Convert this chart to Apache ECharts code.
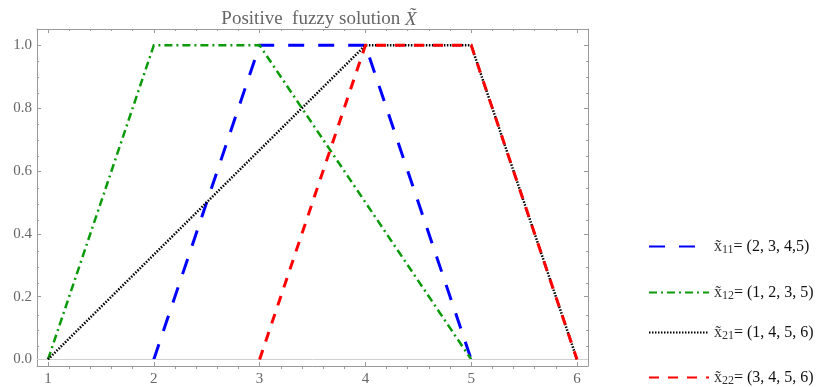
<!DOCTYPE html>
<html>
<head>
<meta charset="utf-8">
<script src="https://cdn.jsdelivr.net/npm/echarts@6/dist/echarts.min.js"></script>
<style>
html,body{margin:0;padding:0;background:#fff;}
#c{width:818px;height:387px;}
</style>
</head>
<body>
<div id="c"></div>
<script>
// ---- data ----
const xTickLabels = [1, 2, 3, 4, 5, 6];
const yTickLabels = [0, 0.2, 0.4, 0.6, 0.8, 1.0];
const seriesNames = ['x11', 'x12', 'x21', 'x22'];
const legendSubs = ['11', '12', '21', '22'];
const legendTuples = ['(2, 3, 4,5)', '(1, 2, 3, 5)', '(1, 4, 5, 6)', '(3, 4, 5, 6)'];
const x11 = [[2, 0], [3, 1], [4, 1], [5, 0]];
const x12 = [[1, 0], [2, 1], [3, 1], [5, 0]];
const x21 = [[1, 0], [4, 1], [5, 1], [6, 0]];
const x22 = [[3, 0], [4, 1], [5, 1], [6, 0]];
const titleText = 'Positive  fuzzy solution ';

// ---- helpers ----
function minors(majors, n) {
  const out = [];
  for (let i = 0; i + 1 < majors.length; i++) {
    const step = (majors[i + 1] - majors[i]) / n;
    for (let k = 1; k < n; k++) out.push(+(majors[i] + k * step).toFixed(6));
  }
  return out;
}
const xMinor = minors(xTickLabels, 5);
const yMinor = minors(yTickLabels, 4);

const X_MIN = 0.896, X_MAX = 6.104, Y_MIN = -0.021, Y_MAX = 1.052;
const frameColor = '#9a9a9a';
const labelColor = '#666';
const serif = '"Liberation Serif", "DejaVu Serif", serif';

const gridRect = { left: 37, right: 230, top: 29, bottom: 18 };

function xAx(gridIndex, position, ticks, len, showLabel, showLine) {
  return {
    type: 'value', gridIndex, position, min: X_MIN, max: X_MAX,
    axisLine: { show: showLine, onZero: false, lineStyle: { color: frameColor, width: 1 } },
    axisTick: { show: true, inside: true, length: len, customValues: ticks, lineStyle: { color: frameColor, width: 1 } },
    axisLabel: showLabel ? {
      show: true, customValues: ticks, margin: 6, color: labelColor,
      fontFamily: serif, fontSize: 15, formatter: v => String(Math.round(v))
    } : { show: false },
    splitLine: { show: false }
  };
}
function yAx(gridIndex, position, ticks, len, showLabel, showLine) {
  return {
    type: 'value', gridIndex, position, min: Y_MIN, max: Y_MAX,
    axisLine: { show: showLine, onZero: false, lineStyle: { color: frameColor, width: 1 } },
    axisTick: { show: true, inside: true, length: len, customValues: ticks, lineStyle: { color: frameColor, width: 1 } },
    axisLabel: showLabel ? {
      show: true, customValues: ticks, margin: 5, color: labelColor,
      fontFamily: serif, fontSize: 15, formatter: v => v.toFixed(1)
    } : { show: false },
    splitLine: { show: false }
  };
}

const styles = [
  { color: '#0000ff', width: 3, type: [16, 14] },
  { color: '#0a9a0a', width: 2.5, type: [8, 4, 2, 4] },
  { color: '#000000', width: 2.5, type: [1.5, 1.5] },
  { color: '#ff0000', width: 3, type: [10, 9] }
];
const datas = [x11, x12, x21, x22];

const series = seriesNames.map((n, i) => ({
  name: n, type: 'line', xAxisIndex: 0, yAxisIndex: 0,
  data: datas[i], symbol: 'none', showSymbol: false, animation: false,
  lineStyle: Object.assign({ cap: 'butt', join: 'miter' }, styles[i]),
  itemStyle: { color: styles[i].color },
  z: 3 + i
}));
series.push({
  name: 'zero', type: 'line', xAxisIndex: 0, yAxisIndex: 0, data: [],
  symbol: 'none', animation: false, z: 1,
  markLine: {
    silent: true, symbol: 'none', animation: false, label: { show: false },
    lineStyle: { color: '#cfcfcf', width: 1, type: 'solid' },
    data: [{ yAxis: 0 }]
  }
});

const legendCenters = [246, 292, 332, 377];
const legends = seriesNames.map((n, i) => ({
  data: [n], orient: 'vertical', left: 648, top: legendCenters[i] - 9,
  padding: 0, itemWidth: 60, itemHeight: 18, itemGap: 0,
  itemStyle: { opacity: 0 },
  selectedMode: false,
  formatter: name => {
    const j = seriesNames.indexOf(name);
    return '{x|x\u0303}{s|' + legendSubs[j] + '}{t|= ' + legendTuples[j] + '}';
  },
  textStyle: {
    fontFamily: serif, color: '#222',
    rich: {
      x: { fontFamily: serif, fontSize: 16, color: '#333', lineHeight: 18 },
      s: { fontFamily: serif, fontSize: 12, color: '#333', lineHeight: 18, padding: [7, 0, 0, 0] },
      t: { fontFamily: serif, fontSize: 16, color: '#111', lineHeight: 18 }
    }
  }
}));

const chart = echarts.init(document.getElementById('c'), null, { renderer: 'canvas' });
chart.setOption({
  animation: false,
  backgroundColor: '#fff',
  title: {
    text: '{a|' + titleText + '}{b|X\u0303}',
    left: 314, top: 5, textAlign: 'center',
    textStyle: {
      fontWeight: 'normal',
      rich: {
        a: { fontFamily: serif, fontSize: 19, color: '#666', fontWeight: 'normal' },
        b: { fontFamily: serif, fontSize: 19, color: '#666', fontStyle: 'italic', fontWeight: 'normal' }
      }
    }
  },
  legend: legends,
  grid: [
    Object.assign({}, gridRect),
    Object.assign({}, gridRect)
  ],
  xAxis: [
    xAx(0, 'bottom', xTickLabels, 4, true, true),
    xAx(0, 'top', xTickLabels, 4, false, true),
    xAx(1, 'bottom', xMinor, 2, false, false),
    xAx(1, 'top', xMinor, 2, false, false)
  ],
  yAxis: [
    yAx(0, 'left', yTickLabels, 4, true, true),
    yAx(0, 'right', yTickLabels, 4, false, true),
    yAx(1, 'left', yMinor, 2, false, false),
    yAx(1, 'right', yMinor, 2, false, false)
  ],
  series: series
});
</script>
</body>
</html>
